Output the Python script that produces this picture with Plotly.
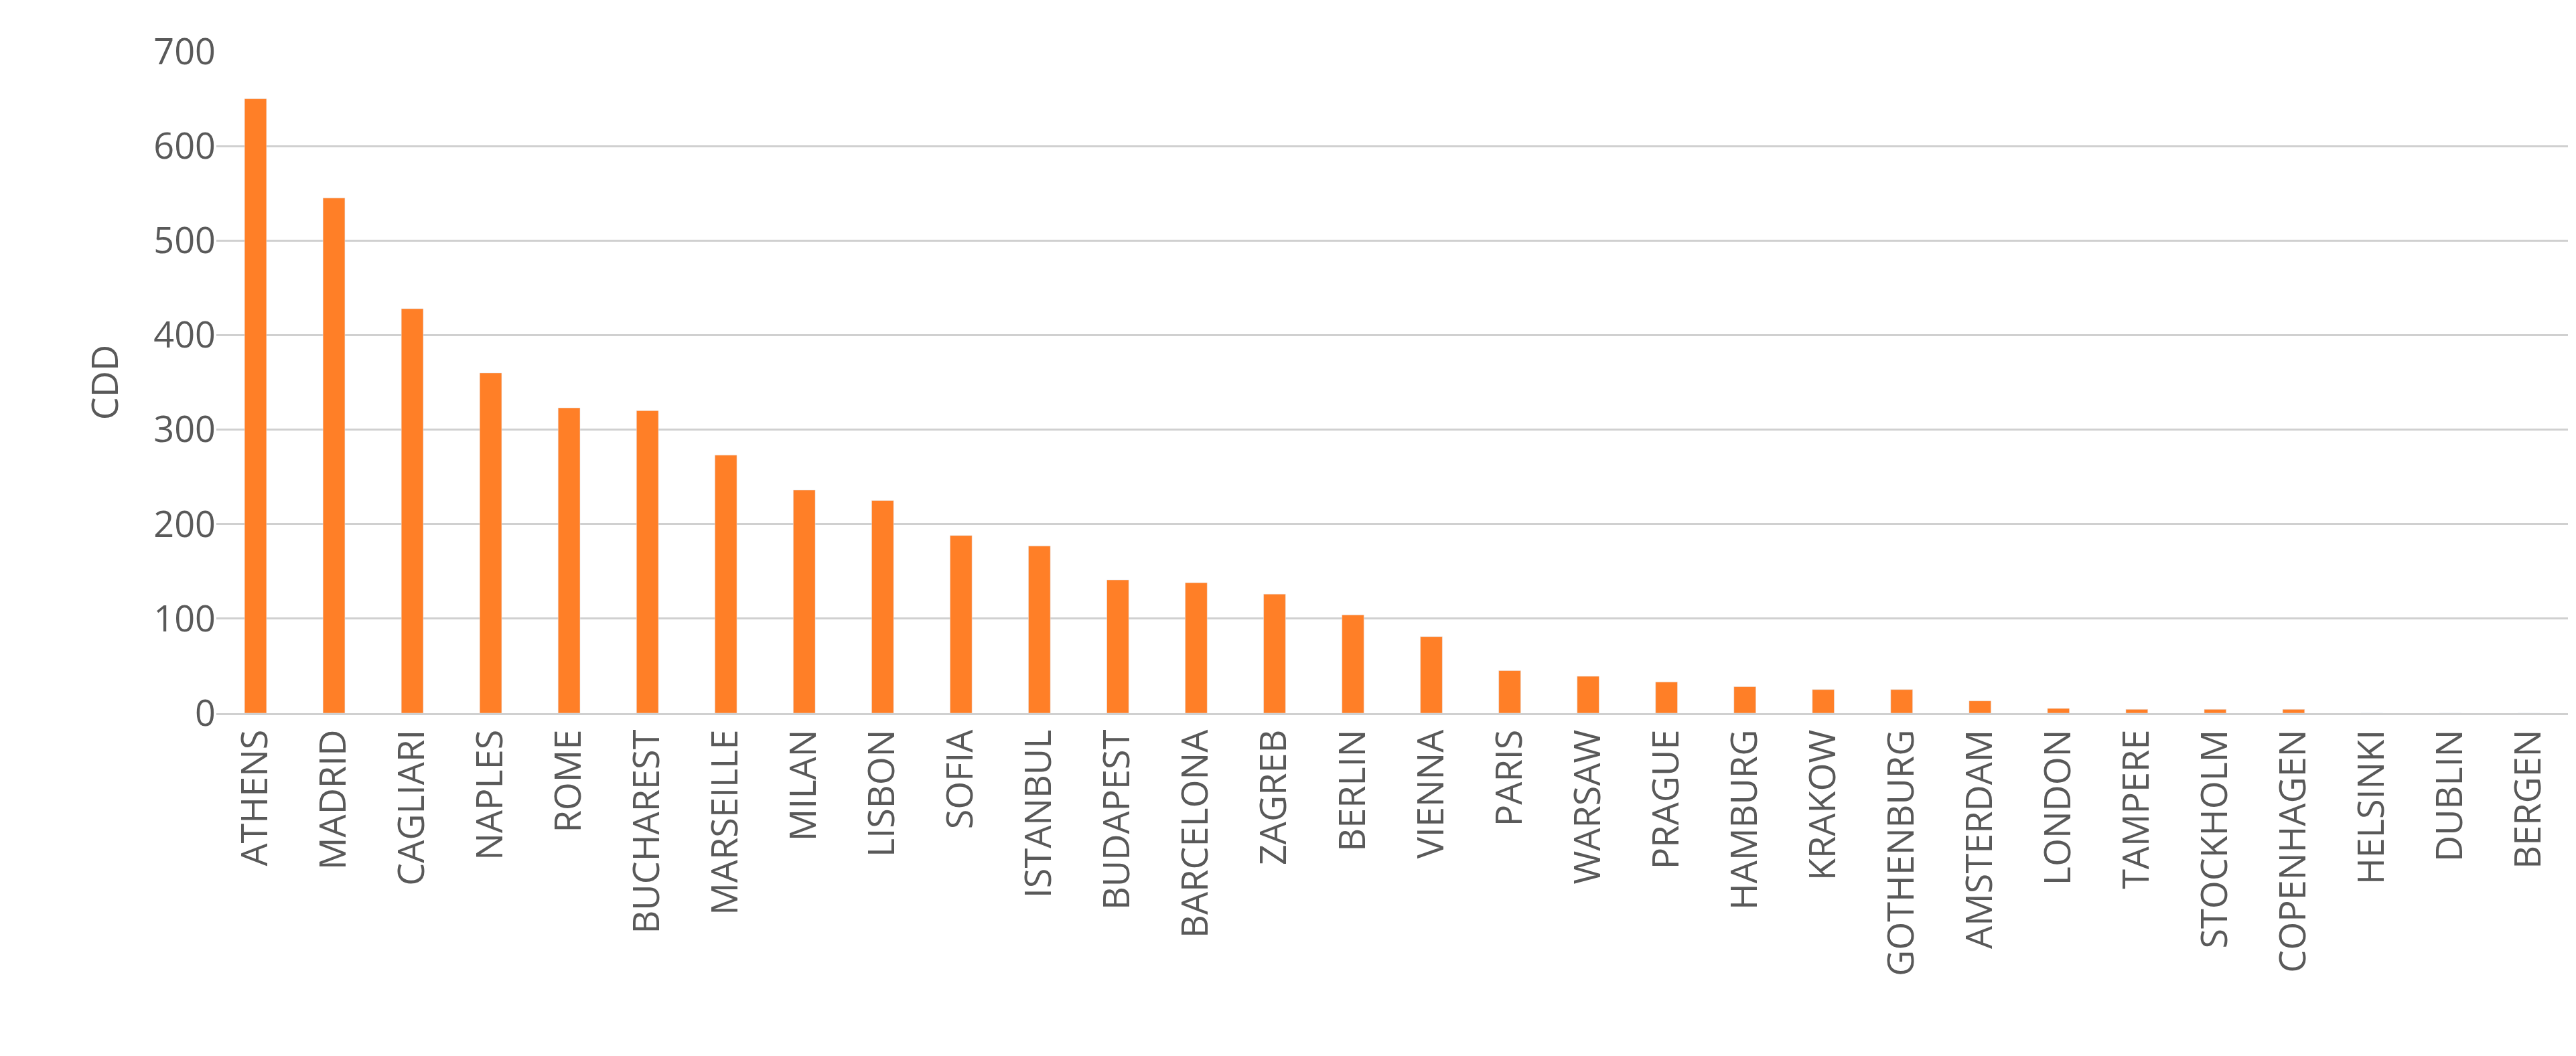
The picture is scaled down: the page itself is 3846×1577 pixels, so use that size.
import plotly.graph_objects as go

cities = ["ATHENS","MADRID","CAGLIARI","NAPLES","ROME","BUCHAREST","MARSEILLE","MILAN","LISBON","SOFIA",
          "ISTANBUL","BUDAPEST","BARCELONA","ZAGREB","BERLIN","VIENNA","PARIS","WARSAW","PRAGUE","HAMBURG",
          "KRAKOW","GOTHENBURG","AMSTERDAM","LONDON","TAMPERE","STOCKHOLM","COPENHAGEN","HELSINKI","DUBLIN","BERGEN"]
cdd = [650,545,428,360,323,320,273,236,225,188,
       177,141,138,126,104,81,45,39,33,28,
       25,25,13,5,4,4,4,0,0,0]

fig = go.Figure(go.Bar(x=cities, y=cdd, marker_color="#FF7F27", width=0.28))
font = dict(family="Open Sans, Liberation Sans, sans-serif", size=54, color="#595959")
fig.update_layout(
    width=3846, height=1577, plot_bgcolor="white", paper_bgcolor="white",
    margin=dict(l=315, r=20, t=69, b=520), font=font, showlegend=False,
)
fig.update_yaxes(range=[0,700], dtick=100, showgrid=True, gridcolor="#D0D0D0", gridwidth=3,
                 title=dict(text="CDD", font=font, standoff=35), zeroline=False, ticks="", ticklen=0)
fig.update_xaxes(tickangle=-90, showline=True, linecolor="#D0D0D0", linewidth=3, ticks="")
fig.write_html("out.html")
